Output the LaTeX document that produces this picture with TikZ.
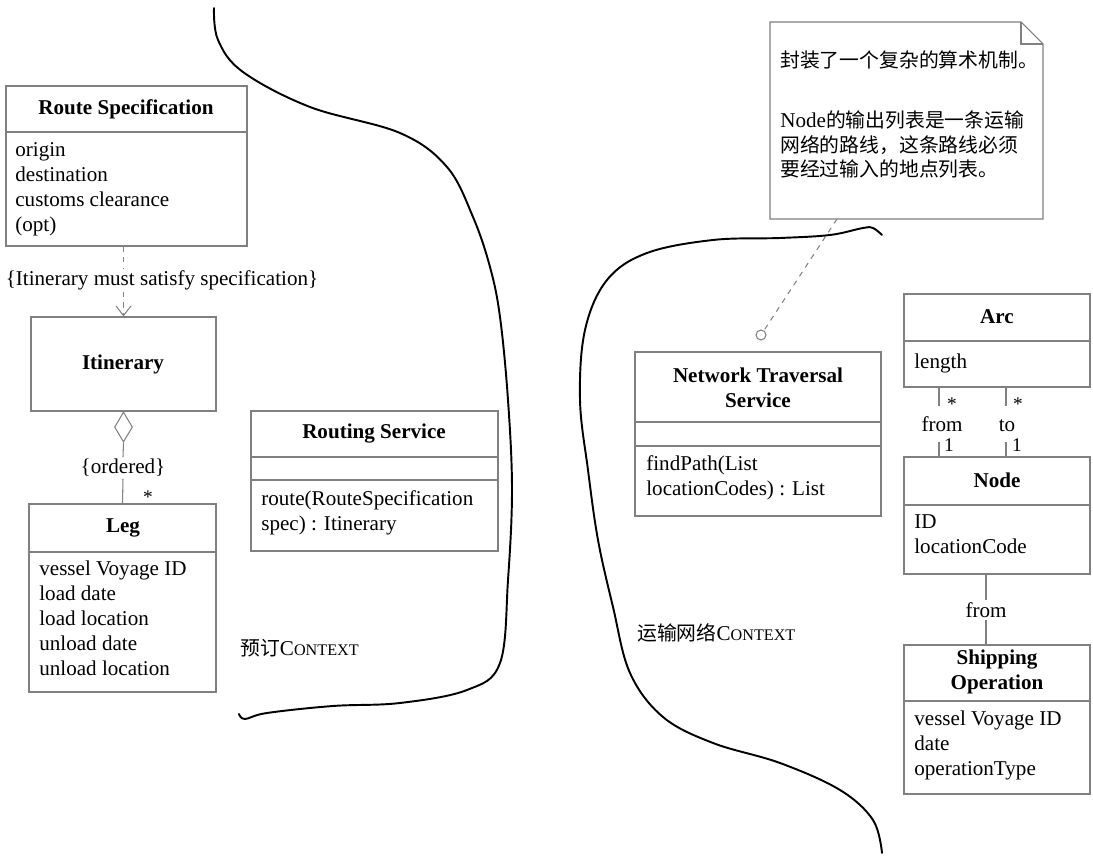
\documentclass[tikz,border=0pt]{standalone}
\usepackage{fontspec}
\setmainfont{Liberation Serif}
\newfontfamily\cjk{Noto Sans CJK SC}[Scale=0.94]
\usepackage{tikz}
\usetikzlibrary{fit, positioning, arrows.meta, shapes.geometric}

\newcommand{\umlfont}{\fontsize{12}{14.2}\selectfont}
\newcommand{\zh}[1]{{\cjk #1}}
\newcommand{\ctx}{C{\fontsize{9.2}{10}\selectfont ONTEXT}}

\tikzset{
  umlbox/.style={draw=gray, line width=0.6pt, inner sep=0pt},
  sep/.style={draw=gray, line width=0.6pt},
  cname/.style={font=\umlfont\bfseries, align=center, inner sep=0pt},
  attrs/.style={font=\umlfont, anchor=north west, align=left, inner sep=0pt,
    execute at begin node=\strut},
  lbl/.style={font=\umlfont, inner sep=1pt},
  mult/.style={font=\fontsize{11}{12}\selectfont, inner sep=0pt},
  assoc/.style={draw=gray, line width=0.6pt},
  boundary/.style={line width=1.1pt, line cap=round}
}

\begin{document}
\begin{tikzpicture}[x=0.02cm, y=-0.02cm]
\useasboundingbox (0,0) rectangle (1093,857);

% booking context
\node[umlbox, fit={(6,86) (247,246)}] (rspec) {};
\draw[sep] (6,132) -- (247,132);
\node[cname] (rspec-t) at (126,109) {Route Specification};
\node[attrs] (rspec-a) at (15,142.5) {origin\\destination\\customs clearance\\(opt)};

\node[umlbox, fit={(31,317) (216,411)}] (itin) {};
\node[cname] (itin-t) at (123,364) {Itinerary};

\node[lbl] (sat) at (162,280) {\{Itinerary must satisfy specification\}};
\draw[assoc, dashed] (itin.north |- rspec.south) -- (itin.north |- sat.north);
\draw[assoc, dashed, -{Straight Barb[length=5.5pt, width=8.5pt]}] (itin.north |- sat.south) -- (itin.north);

\node[umlbox, diamond, anchor=north, minimum width=0.36cm, minimum height=0.6cm] (dia) at (itin.south) {};
\node[lbl] (ord) at (123,468) {\{ordered\}};

\node[umlbox, fit={(29,504) (216,692)}] (leg) {};
\draw[sep] (29,552) -- (216,552);
\node[cname] (leg-t) at (123,528) {Leg};
\node[attrs] (leg-a) at (39,560.5) {vessel Voyage ID\\load date\\load location\\unload date\\unload location};

\draw[assoc] (dia.south) -- (ord.north);
\draw[assoc] (ord.south) -- (leg.north);
\node[mult] (leg-m) at (148,497) {*};

\node[umlbox, fit={(251,411) (498,551)}] (rsvc) {};
\draw[sep] (251,457) -- (498,457);
\draw[sep] (251,480) -- (498,480);
\node[cname] (rsvc-t) at (374,434) {Routing Service};
\node[attrs] (rsvc-a) at (261,490.5) {route(RouteSpecification\\spec) : Itinerary};

\node[font=\umlfont, anchor=west, inner sep=0pt] (ctx-a) at (240,648) {\zh{预订}\ctx};

\draw[boundary] plot[smooth, tension=0.6] coordinates {(214,8) (218,40) (243,72) (310,107) (400,133) (447,167) (473,217) (490,267) (500,317) (508,400) (512,490) (508,580) (500,663) (467,690) (400,703) (333,706) (267,713) (245,719) (239,714)};

% transport network context
\draw[umlbox] (770,22) -- (1021,22) -- (1043,44) -- (1043,219) -- (770,219) -- cycle;
\draw[umlbox] (1021,22) -- (1021,44) -- (1043,44);
\node[font=\umlfont, anchor=west, inner sep=0pt] (note-a) at (780,60) {\zh{封装了一个复杂的算术机制。}};
\node[attrs] (note-b) at (780,110) {Node\zh{的输出列表是一条运输}\\\zh{网络的路线，这条路线必须}\\\zh{要经过输入的地点列表。}};
\coordinate (note-pt) at (837,219);

\node[umlbox, fit={(635,352) (881,516)}] (nts) {};
\draw[sep] (635,422) -- (881,422);
\draw[sep] (635,446) -- (881,446);
\node[cname] (nts-t) at (758,388) {Network Traversal\\Service};
\node[attrs] (nts-a) at (646,455.5) {findPath(List\\locationCodes) : List};

\node[umlbox, circle, minimum size=0.2cm] (pin) at (761,335) {};
\draw[assoc, dashed] (note-pt) -- (pin);

\node[font=\umlfont, anchor=west, inner sep=0pt] (ctx-b) at (637,633) {\zh{运输网络}\ctx};

\draw[boundary] plot[smooth, tension=0.6] coordinates {(882,235) (873,228) (863,228) (830,235) (780,238) (713,240) (647,253) (607,280) (585,330) (580,400) (588,470) (598,540) (613,607) (630,673) (663,717) (713,743) (780,763) (840,790) (873,820) (882,853)};

\node[umlbox, fit={(904,294) (1090,387)}] (arc) {};
\draw[sep] (904,341) -- (1090,341);
\node[cname] (arc-t) at (997,317) {Arc};
\node[attrs] (arc-a) at (914,350.5) {length};

\node[umlbox, fit={(904,457) (1090,574)}] (node) {};
\draw[sep] (904,505) -- (1090,505);
\node[cname] (node-t) at (997,480) {Node};
\node[attrs] (node-a) at (914,514.5) {ID\\locationCode};

\node[lbl, inner sep=0pt] (from-a) at (942,424) {from};
\node[lbl, inner sep=0pt] (to-a) at (1007,426) {to};
\draw[assoc] (arc.south -| 939,0) -- (939,406);
\draw[assoc] (939,442) -- (node.north -| 939,0);
\draw[assoc] (arc.south -| 1006,0) -- (1006,406);
\draw[assoc] (1006,442) -- (node.north -| 1006,0);
\node[mult] (from-m1) at (952,404) {*};
\node[mult] (from-m2) at (949,445) {1};
\node[mult] (to-m1) at (1018,404) {*};
\node[mult] (to-m2) at (1017,445) {1};

\node[umlbox, fit={(904,645) (1090,794)}] (shop) {};
\draw[sep] (904,701) -- (1090,701);
\node[cname] (shop-t) at (997,672) {Shipping\\Operation};
\node[attrs] (shop-a) at (914,710.5) {vessel Voyage ID\\date\\operationType};

\node[lbl] (from-b) at (986,610) {from};
\draw[assoc] (node.south -| 986,0) -- (from-b.north -| 986,0);
\draw[assoc] (from-b.south -| 986,0) -- (shop.north -| 986,0);
\end{tikzpicture}
\end{document}
